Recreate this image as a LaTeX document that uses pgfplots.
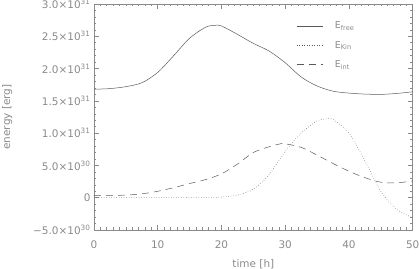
\documentclass[border=0pt]{standalone}
\usepackage{fontspec}
\setmainfont{DejaVu Sans}
\usepackage{pgfplots}
\pgfplotsset{compat=1.18}
\definecolor{axgray}{HTML}{8A8A8A}
\definecolor{lngray}{HTML}{5A5A5A}
\begin{document}
\begin{tikzpicture}
\begin{axis}[
  scale only axis, width=318.7bp, height=226bp,
  xmin=0, xmax=50, ymin=-0.5, ymax=3.0,
  axis line style={axgray, line width=0.5pt},
  every tick/.style={axgray, line width=0.5pt},
  tick align=inside, major tick length=5bp, minor tick length=2.5bp,
  xtick={0,10,20,30,40,50}, xticklabels={0,10,20,30,40,50},
  minor x tick num=9,
  ytick={-0.5,0,0.5,1,1.5,2,2.5,3},
  yticklabels={−5.0×10\textsuperscript{30},0,5.0×10\textsuperscript{30},1.0×10\textsuperscript{31},1.5×10\textsuperscript{31},2.0×10\textsuperscript{31},2.5×10\textsuperscript{31},3.0×10\textsuperscript{31}},
  minor y tick num=4,
  tick label style={font=\fontsize{10.5}{12}\selectfont, text=axgray},
  xticklabel style={yshift=-7bp},
  label style={font=\fontsize{10.5}{12}\selectfont, text=axgray},
  xlabel={time [h]}, ylabel={energy [erg]},
  xlabel style={at={(axis description cs:0.5,-0.143)}, anchor=center, yshift=-2bp},
  ylabel style={at={(axis description cs:-0.272,0.5)}, anchor=center},
  legend style={draw=none, fill=none, at={(0.625,0.94)}, anchor=north west,
    font=\fontsize{9.5}{10}\selectfont, text=axgray, row sep=7bp},
  legend cell align=left,
  legend image code/.code={\draw[#1] (0bp,0bp) -- (26bp,0bp); \path (36bp,0bp);},
  clip=false,
]
\addplot[lngray, line width=0.5pt, smooth] coordinates {
(0,1.68) (2.5,1.69) (5,1.72) (7.5,1.78) (10,1.94) (12.5,2.2) (15,2.47) (17.5,2.64) (19,2.67) (20,2.66) (22.5,2.53) (25,2.39) (27.5,2.27) (30,2.09) (32.5,1.87) (35,1.73) (37.5,1.65) (40,1.62) (42.5,1.605) (45,1.60) (47.5,1.615) (50,1.64)};
\addlegendentry{E\textsubscript{free}}
\addplot[lngray, line width=0.5pt, dotted, smooth] coordinates {
(0,0) (5,0) (10,0) (15,0) (18,0.002) (20,0.01) (22.5,0.04) (25,0.13) (27.5,0.36) (30,0.72) (32.5,1.0) (35,1.19) (36.5,1.22) (37.5,1.21) (40,1.0) (42.5,0.57) (45,0.10) (47.5,-0.18) (50,-0.31)};
\addlegendentry{E\textsubscript{Kin}}
\addplot[lngray, line width=0.5pt, dash pattern=on 7bp off 5bp, smooth] coordinates {
(0,0.036) (2.5,0.037) (5,0.04) (7.5,0.06) (10,0.10) (12.5,0.155) (15,0.22) (17.5,0.28) (20,0.37) (22.5,0.52) (25,0.70) (27.5,0.79) (29.5,0.84) (30,0.835) (32.5,0.78) (35,0.66) (37.5,0.53) (40,0.41) (42.5,0.31) (45,0.24) (47.5,0.23) (50,0.26)};
\addlegendentry{E\textsubscript{int}}
\coordinate (A) at (rel axis cs:0,0);
\coordinate (B) at (rel axis cs:1,1);
\end{axis}
\pgfresetboundingbox
\path[use as bounding box] ([shift={(-94bp,-39bp)}]A) rectangle ([shift={(6.3bp,4bp)}]B);
\end{tikzpicture}
\end{document}
